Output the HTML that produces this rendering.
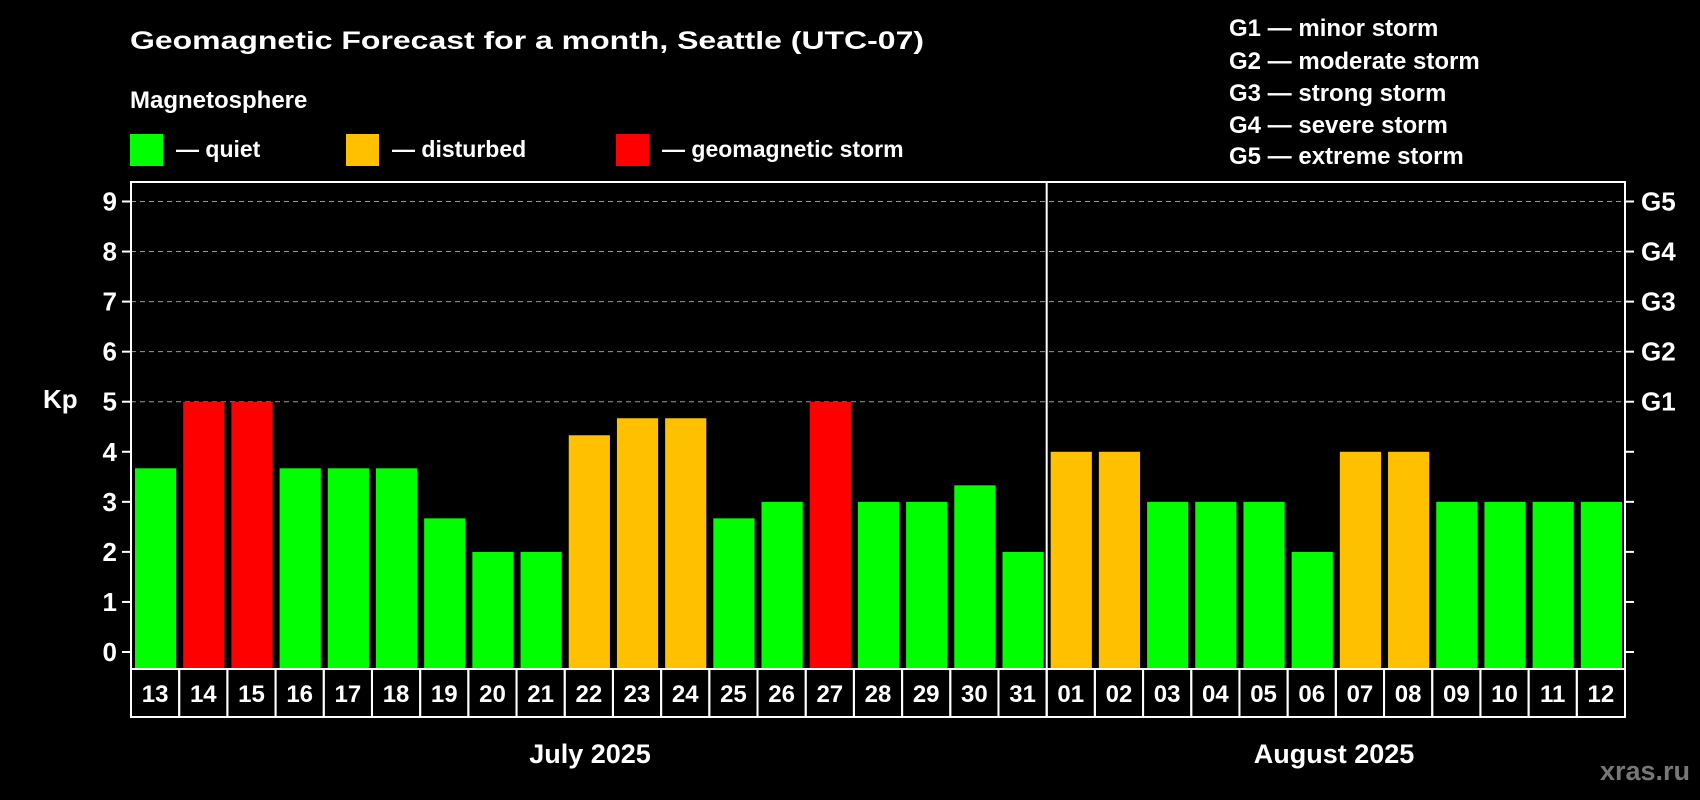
<!DOCTYPE html>
<html><head><meta charset="utf-8"><style>
html,body{margin:0;padding:0;background:#000;width:1700px;height:800px;overflow:hidden}
svg{display:block;font-family:"Liberation Sans",Arial,sans-serif;font-weight:bold}
</style></head><body>
<svg id="c" width="1700" height="800">
<text x="130" y="49" fill="#fff" font-size="25" textLength="794" lengthAdjust="spacingAndGlyphs">Geomagnetic Forecast for a month, Seattle (UTC-07)</text>
<text x="130" y="108" fill="#fff" font-size="24">Magnetosphere</text>
<g><rect x="130" y="134" width="33" height="32" fill="#00ff00"/><text x="176" y="157" fill="#fff" font-size="23">— quiet</text></g>
<g><rect x="346" y="134" width="33" height="32" fill="#ffc000"/><text x="392" y="157" fill="#fff" font-size="23">— disturbed</text></g>
<g><rect x="616" y="134" width="33" height="32" fill="#ff0000"/><text x="662" y="157" fill="#fff" font-size="23">— geomagnetic storm</text></g>
<g fill="#fff" font-size="24">
<text x="1229" y="36">G1 — minor storm</text>
<text x="1229" y="69">G2 — moderate storm</text>
<text x="1229" y="101">G3 — strong storm</text>
<text x="1229" y="133">G4 — severe storm</text>
<text x="1229" y="164">G5 — extreme storm</text>
</g>
<text x="43" y="408" fill="#fff" font-size="26">Kp</text>
<text x="590" y="763" fill="#fff" font-size="27" text-anchor="middle">July 2025</text>
<text x="1334" y="763" fill="#fff" font-size="27" text-anchor="middle">August 2025</text>
<text x="1690" y="780" fill="#777" font-size="27" text-anchor="end">xras.ru</text>
<g id="plot"></g>
</svg>
<script>
const days = ["13","14","15","16","17","18","19","20","21","22","23","24","25","26","27","28","29","30","31","01","02","03","04","05","06","07","08","09","10","11","12"];
const kpValues = [3.67,5,5,3.67,3.67,3.67,2.67,2,2,4.33,4.67,4.67,2.67,3,5,3,3,3.33,2,4,4,3,3,3,2,4,4,3,3,3,3];
const yTicks = [0,1,2,3,4,5,6,7,8,9];
const gLabels = ["","","","","","G1","G2","G3","G4","G5"];
const julyCount = 19;

const NS="http://www.w3.org/2000/svg";
const L=131,R=1625,T=182,B=669,Y0=652,Y9=201.5;
const y=v=>Y0-(Y0-Y9)*v/9;
const pitch=(R-L)/days.length;
const xs=i=>L+i*pitch;
const g=document.getElementById('plot');
function mk(t,a){const e=document.createElementNS(NS,t);for(const k in a)e.setAttribute(k,a[k]);g.appendChild(e);return e;}
function color(v){return v>=5?"#ff0000":(v>=4?"#ffc000":"#00ff00");}

yTicks.forEach((t,i)=>{
  if(t>=5){const gl=mk('line',{x1:L,x2:R,y1:y(t),y2:y(t),stroke:'#999','stroke-width':1,'stroke-dasharray':'5,4'});
    
    }
  const tl=mk('line',{x1:L-9,x2:L,y1:y(t),y2:y(t),stroke:'#fff','stroke-width':2});
  
  
  const tr=mk('line',{x1:R,x2:R+9,y1:y(t),y2:y(t),stroke:'#fff','stroke-width':2});
  
  
  const lb=mk('text',{x:L-14,y:y(t)+9,fill:'#fff','font-size':26,'text-anchor':'end'});
  lb.textContent=t;
  
  
  if(gLabels[i]){const gg=mk('text',{x:R+16,y:y(t)+9,fill:'#fff','font-size':26});
    gg.textContent=gLabels[i];
    
    }
});

kpValues.forEach((v,i)=>{
  const b=mk('rect',{x:xs(i)+4,y:y(v),width:pitch-7,height:B-1-y(v),fill:color(v)});
  
  
  const c=mk('rect',{x:xs(i),y:B,width:pitch,height:48,fill:'none',stroke:'#fff','stroke-width':2});
  
  
  const t=mk('text',{x:xs(i)+pitch/2,y:B+33,fill:'#fff','font-size':24,'text-anchor':'middle'});
  t.textContent=days[i];
  
  
});

const fr=mk('rect',{x:L,y:T,width:R-L,height:B-T,fill:'none',stroke:'#fff','stroke-width':2});


const dv=mk('line',{x1:xs(julyCount),x2:xs(julyCount),y1:T,y2:B+48,stroke:'#fff','stroke-width':2});


</script>
</body></html>
